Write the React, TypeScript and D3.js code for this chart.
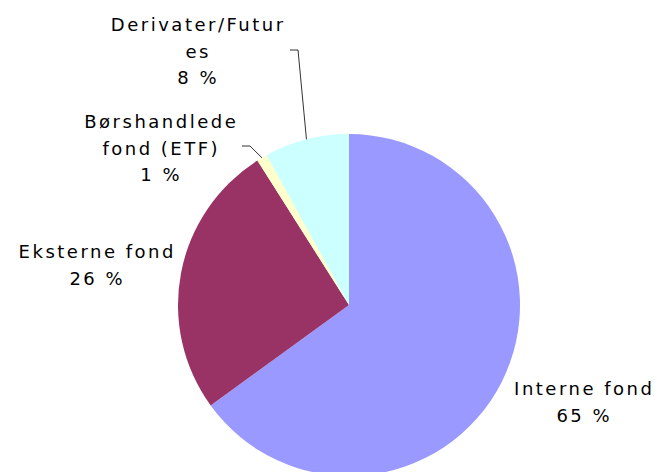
import React from "react";
import * as d3 from "d3";

const categories = ["Interne fond", "Eksterne fond", "Børshandlede fond (ETF)", "Derivater/Futures"];
const values = [65, 26, 1, 8];
const colors = ["#9999FF", "#993366", "#FFFFCC", "#CCFFFF"];
const labelLines = [
  ["Interne fond", "65 %"],
  ["Eksterne fond", "26 %"],
  ["Børshandlede", "fond (ETF)", "1 %"],
  ["Derivater/Futur", "es", "8 %"],
];

const W = 657, H = 472;
const cx = 349, cy = 305, R = 171;
// label block layout: center x, first baseline y
const labelPos = [
  { x: 583, y: 395 },
  { x: 96, y: 258 },
  { x: 160, y: 128 },
  { x: 197, y: 31 },
];
// leader line starts (only for small slices)
const leaderStart: ({ x: number; y: number } | null)[] = [null, null, { x: 242, y: 146 }, { x: 290, y: 50 }];
const LH = 26.5;
const LS = 2.5;

export default function App() {
  const pie = d3.pie<number>().value((d) => d).sort(null).startAngle(0).endAngle(2 * Math.PI);
  const arcs = pie(values);
  const arc = d3.arc<d3.PieArcDatum<number>>().innerRadius(0).outerRadius(R);
  return (
    <svg width={W} height={H} style={{ position: "absolute", left: 0, top: 0 }}>
      <rect width={W} height={H} fill="#fff" />
      <g transform={`translate(${cx},${cy})`}>
        {arcs.map((a, i) => (
          <path key={i} d={arc(a) || ""} fill={colors[i]} />
        ))}
      </g>
      {arcs.map((a, i) => {
        const s = leaderStart[i];
        if (!s) return null;
        const mid = (a.startAngle + a.endAngle) / 2;
        const ex = cx + R * Math.sin(mid);
        const ey = cy - R * Math.cos(mid);
        const pts = [[s.x, s.y], [s.x + 8, s.y], [ex, ey]];
        return (
          <polyline key={"l" + i} points={pts.map((p) => p.join(",")).join(" ")} fill="none" stroke="#333" strokeWidth={1} />
        );
      })}
      {labelLines.map((lines, i) => (
        <text key={"t" + i} x={labelPos[i].x} y={labelPos[i].y} textAnchor="middle"
          fontFamily="DejaVu Sans, Verdana, sans-serif" fontSize={18} letterSpacing={LS} fill="#000">
          {lines.map((ln, j) => (
            <tspan key={j} x={labelPos[i].x + LS / 2} y={labelPos[i].y + j * LH}>{ln}</tspan>
          ))}
        </text>
      ))}
    </svg>
  );
}
